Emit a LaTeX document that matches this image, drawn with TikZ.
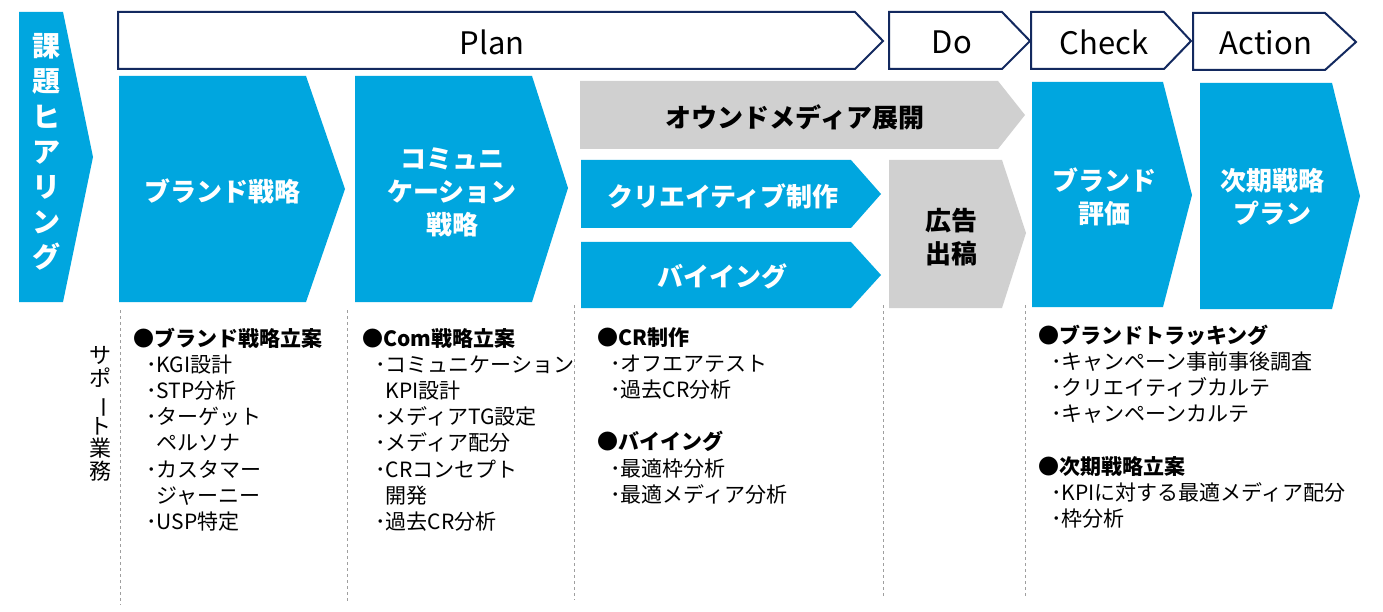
\documentclass[tikz,border=0pt]{standalone}
\usepackage{fontspec}
\setmainfont{Noto Sans CJK JP}
\definecolor{cblue}{HTML}{00A6DF}
\definecolor{cgrey}{HTML}{D0D0D0}
\definecolor{navy}{HTML}{13295F}
\newcommand\bu{\hspace*{13pt}･}
\newcommand\cnt{\hspace*{13pt}\phantom{･}}
\tikzset{
  hdr/.style={draw=navy, line width=2pt, fill=white, line join=miter},
  bluef/.style={fill=cblue},
  greyf/.style={fill=cgrey},
  lbl/.style={text=white, font=\bfseries\fontsize{26}{33}\selectfont, align=center, inner sep=0pt},
  glbl/.style={lbl, text=black},
  htxt/.style={font=\fontsize{31}{36}\selectfont, inner sep=0pt},
  vch/.style={text=white, font=\bfseries\fontsize{28}{28}\selectfont, inner sep=0pt, text height=0.88em, text depth=0.12em},
  sch/.style={text=black, font=\fontsize{22}{22}\selectfont, inner sep=0pt, text height=0.88em, text depth=0.12em},
  itm/.style={anchor=base west, font=\fontsize{21}{26}\selectfont, inner sep=0pt},
  sepl/.style={draw=gray!75, dashed, line width=0.8pt}
}
\newcommand\itemcol[4]{%
  \foreach \t [count=\i] in {#4}{%
    \node[itm] (#1-\i) at (#2, #3+26.2*\i-26.2) {\t};
  }%
}
\begin{document}
\begin{tikzpicture}[x=1pt,y=-1pt]
\useasboundingbox (0,0) rectangle (1383,612);
\fill[white] (0,0) rectangle (1383,612);

% left chevron
\fill[bluef] (19,12) -- (63,12) -- (93,157) -- (63,302) -- (19,302) -- cycle;
\foreach \c [count=\i] in {課,題,ヒ,ア,リ,ン,グ}{
  \node[vch] (kadai\i) at (46, 53+35.2*\i-35.2) {\c};
}

% header chevrons
\draw[hdr] (118,12) -- (855,12) -- (883,41) -- (855,69) -- (118,69) -- cycle;
\draw[hdr] (889,12) -- (1002,12) -- (1030,41) -- (1002,69) -- (889,69) -- cycle;
\draw[hdr] (1031,12) -- (1164,12) -- (1191,41) -- (1164,69) -- (1031,69) -- cycle;
\draw[hdr] (1193,13) -- (1325,13) -- (1356,42) -- (1325,70) -- (1193,70) -- cycle;
\node[htxt] (plan) at (492,42) {Plan};
\node[htxt] (do) at (952,42) {Do};
\node[htxt] (check) at (1104,42) {Check};
\node[htxt] (action) at (1266,43) {Action};

% process chevrons
\fill[bluef] (119,76) -- (306,76) -- (345,189) -- (306,302) -- (119,302) -- cycle;
\fill[bluef] (355,76) -- (532,76) -- (568,188) -- (532,302) -- (355,302) -- cycle;
\fill[greyf] (580,81) -- (998,81) -- (1025,115) -- (998,149) -- (580,149) -- cycle;
\fill[bluef] (581,160) -- (851,160) -- (881,194) -- (851,228) -- (581,228) -- cycle;
\fill[bluef] (581,242) -- (851,242) -- (881,275) -- (851,308) -- (581,308) -- cycle;
\fill[greyf] (889,160) -- (1002,160) -- (1026,233) -- (1002,308) -- (889,308) -- cycle;
\fill[bluef] (1032,82) -- (1163,82) -- (1192,195) -- (1163,307) -- (1032,307) -- cycle;
\fill[bluef] (1200,83) -- (1332,83) -- (1360,196) -- (1332,309) -- (1200,309) -- cycle;

\node[lbl] (brand) at (222,191) {ブランド戦略};
\node[lbl] (comm) at (452,192) {コミュニ\\ケーション\\戦略};
\node[glbl] (owned) at (795,117) {オウンドメディア展開};
\node[lbl] (creative) at (723,196) {クリエイティブ制作};
\node[lbl] (buying) at (722,276) {バイイング};
\node[glbl] (ad) at (951,237) {広告\\出稿};
\node[lbl] (beval) at (1104,197) {ブランド\\評価};
\node[lbl] (next) at (1272,197) {次期戦略\\プラン};

% dashed separators
\draw[sepl] (120,310) -- (120,605);
\draw[sepl] (347,310) -- (347,602);
\draw[sepl] (574,305) -- (574,600);
\draw[sepl] (883,305) -- (883,598);
\draw[sepl] (1025,305) -- (1025,598);

% support label
\node[sch] (s1) at (100,360) {サ};
\node[sch] (s2) at (100,383) {ポ};
\node[sch, text height=, text depth=] (s3) at (100,407) {\rotatebox[origin=c]{-90}{ー}};
\node[sch] (s4) at (100,431) {ト};
\node[sch] (s5) at (100,453) {業};
\node[sch] (s6) at (100,476) {務};

% item columns
\itemcol{ca}{133}{346}{{\bfseries ●ブランド戦略立案},\bu KGI設計,\bu STP分析,\bu ターゲット,\cnt ペルソナ,\bu カスタマー,\cnt ジャーニー,\bu USP特定}
\itemcol{cb}{362}{346}{{\bfseries ●Com戦略立案},\bu コミュニケーション,\cnt KPI設計,\bu メディアTG設定,\bu メディア配分,\bu CRコンセプト,\cnt 開発,\bu 過去CR分析}
\itemcol{cc}{597}{345}{{\bfseries ●CR制作},\bu オフエアテスト,\bu 過去CR分析,{},{\bfseries ●バイイング},\bu 最適枠分析,\bu 最適メディア分析}
\itemcol{cd}{1038}{343}{{\bfseries ●ブランドトラッキング},\bu キャンペーン事前事後調査,\bu クリエイティブカルテ,\bu キャンペーンカルテ,{},{\bfseries ●次期戦略立案},\bu KPIに対する最適メディア配分,\bu 枠分析}
\end{tikzpicture}
\end{document}
